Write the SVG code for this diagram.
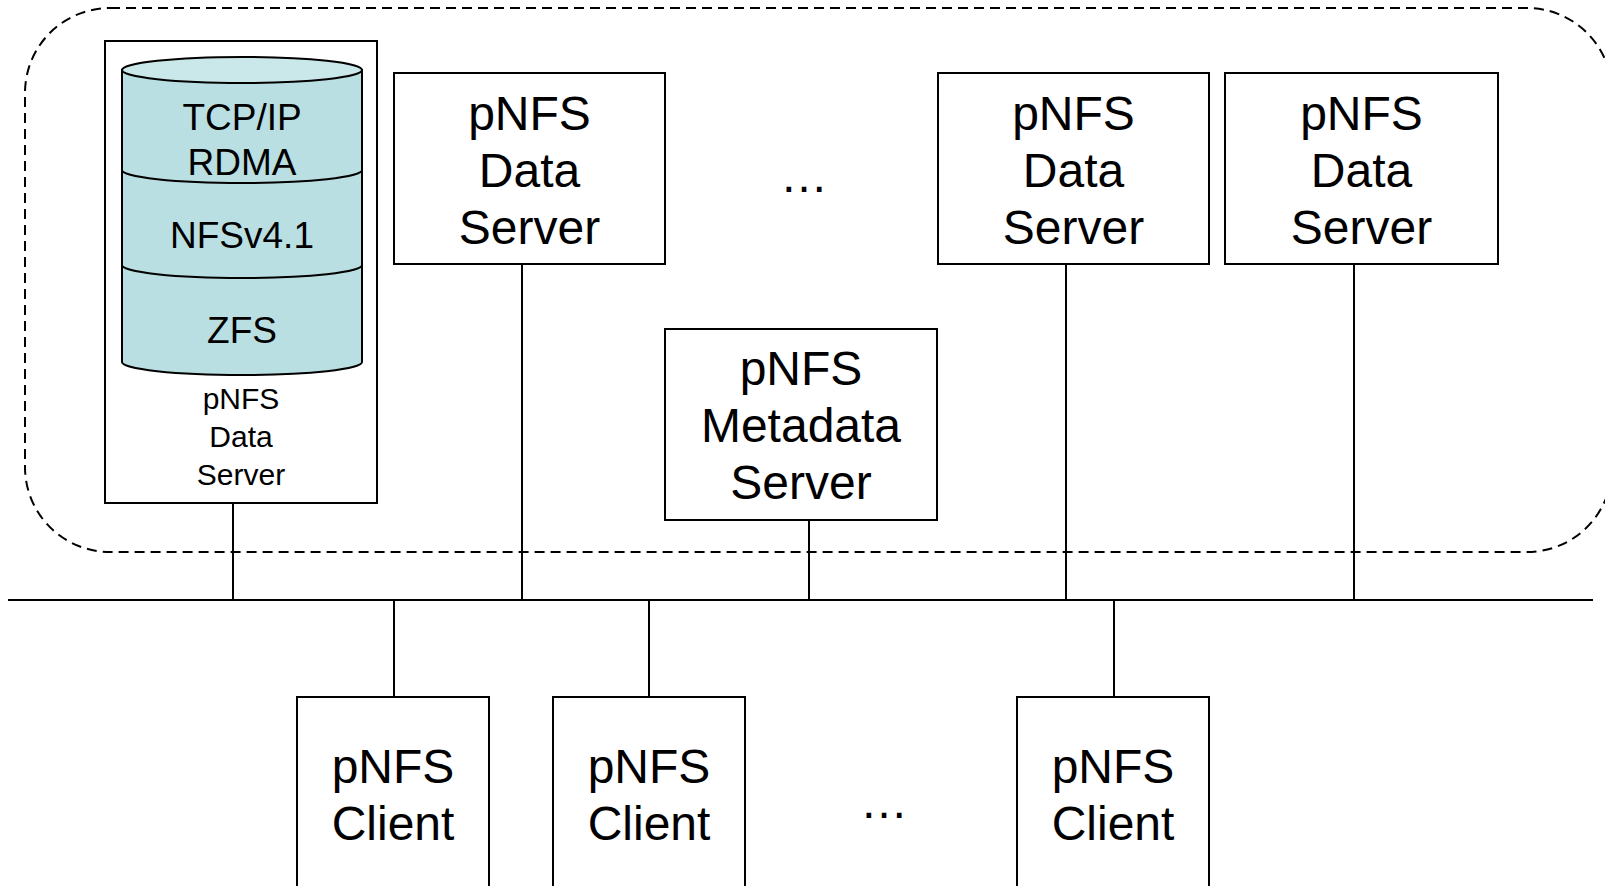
<svg xmlns="http://www.w3.org/2000/svg" width="1605" height="886" viewBox="0 0 1605 886">
  <style>
    .box { fill: #ffffff; stroke: #000000; stroke-width: 2; }
    .cyl { fill: #B9DFE3; stroke: #000000; stroke-width: 2; }
    .cyltop { fill: #CAE7EA; stroke: #000000; stroke-width: 2; }
    .line { fill: none; stroke: #000000; stroke-width: 2; }
    .dash { fill: none; stroke: #000000; stroke-width: 2; stroke-dasharray: 10 6; }
    text { font-family: "Liberation Sans", Arial, sans-serif; fill: #000000; text-anchor: middle; }
    .big { font-size: 48px; }
    .mid { font-size: 37px; }
    .small { font-size: 30px; }
  </style>
  <rect id="cluster" x="25" y="8" width="1587" height="544" rx="85" ry="85" class="dash"/>
  <g id="connectors">
    <line x1="8" y1="600" x2="1593" y2="600" class="line"/>
    <line x1="233" y1="503" x2="233" y2="600" class="line"/>
    <line x1="522" y1="264" x2="522" y2="600" class="line"/>
    <line x1="809" y1="520" x2="809" y2="600" class="line"/>
    <line x1="1066" y1="264" x2="1066" y2="600" class="line"/>
    <line x1="1354" y1="264" x2="1354" y2="600" class="line"/>
    <line x1="394" y1="600" x2="394" y2="697" class="line"/>
    <line x1="649" y1="600" x2="649" y2="697" class="line"/>
    <line x1="1114" y1="600" x2="1114" y2="697" class="line"/>
  </g>
  <g id="ds0">
    <rect x="105" y="41" width="272" height="462" class="box"/>
    <path d="M122,70 L122,362 A120,13 0 0 0 362,362 L362,70 Z" class="cyl"/>
    <ellipse cx="242" cy="70" rx="120" ry="13" class="cyltop"/>
    <path d="M122,170 A120,13 0 0 0 362,170" class="line"/>
    <path d="M122,265 A120,13 0 0 0 362,265" class="line"/>
    <text class="mid" x="242" y="130">TCP/IP</text>
    <text class="mid" x="242" y="175">RDMA</text>
    <text class="mid" x="242" y="248">NFSv4.1</text>
    <text class="mid" x="242" y="343">ZFS</text>
    <text class="small" x="241" y="409">pNFS</text>
    <text class="small" x="241" y="447">Data</text>
    <text class="small" x="241" y="485">Server</text>
  </g>
  <g id="ds1">
    <rect x="394" y="73" width="271" height="191" class="box"/>
    <text class="big" x="529.5" y="130">pNFS</text>
    <text class="big" x="529.5" y="187">Data</text>
    <text class="big" x="529.5" y="244">Server</text>
  </g>
  <g id="ellipsis-top">
    <text class="big" x="804" y="192">…</text>
  </g>
  <g id="ds2">
    <rect x="938" y="73" width="271" height="191" class="box"/>
    <text class="big" x="1073.5" y="130">pNFS</text>
    <text class="big" x="1073.5" y="187">Data</text>
    <text class="big" x="1073.5" y="244">Server</text>
  </g>
  <g id="ds3">
    <rect x="1225" y="73" width="273" height="191" class="box"/>
    <text class="big" x="1361.5" y="130">pNFS</text>
    <text class="big" x="1361.5" y="187">Data</text>
    <text class="big" x="1361.5" y="244">Server</text>
  </g>
  <g id="mds">
    <rect x="665" y="329" width="272" height="191" class="box"/>
    <text class="big" x="801" y="385">pNFS</text>
    <text class="big" x="801" y="442">Metadata</text>
    <text class="big" x="801" y="499">Server</text>
  </g>
  <g id="client1">
    <rect x="297" y="697" width="192" height="200" class="box"/>
    <text class="big" x="393" y="783">pNFS</text>
    <text class="big" x="393" y="840">Client</text>
  </g>
  <g id="client2">
    <rect x="553" y="697" width="192" height="200" class="box"/>
    <text class="big" x="649" y="783">pNFS</text>
    <text class="big" x="649" y="840">Client</text>
  </g>
  <g id="ellipsis-bottom">
    <text class="big" x="884" y="818">…</text>
  </g>
  <g id="client3">
    <rect x="1017" y="697" width="192" height="200" class="box"/>
    <text class="big" x="1113" y="783">pNFS</text>
    <text class="big" x="1113" y="840">Client</text>
  </g>
</svg>
